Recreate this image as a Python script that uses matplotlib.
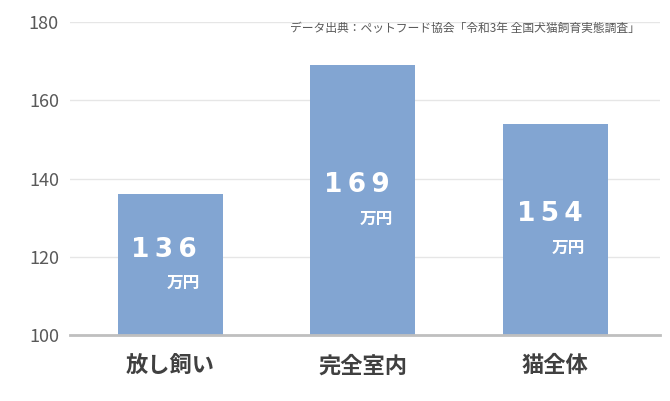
import matplotlib.pyplot as plt

plt.rcParams['font.family'] = ['Noto Sans CJK JP', 'DejaVu Sans']

categories = ['放し飼い', '完全室内', '猫全体']
values = [136, 169, 154]
yticks = [100, 120, 140, 160, 180]
source = 'データ出典：ペットフード協会「令和3年 全国犬猫飼育実態調査」'

fig = plt.figure(figsize=(6.7, 4.01), dpi=100)
ax = fig.add_axes([70 / 670, 1 - 335 / 401, 590 / 670, 313 / 401])

x = range(len(categories))
ax.bar(x, [v - 100 for v in values], bottom=100, width=0.545, color='#82A5D2', zorder=2)

for i, v in zip(x, values):
    mid = 100 + (v - 100) * 0.5
    ax.text(i - 0.03, mid + 3.8, ' '.join(str(v)).replace(' ', '\u2009'), ha='center', va='center',
            color='white', fontsize=19, fontweight='bold', family='DejaVu Sans', zorder=3)
    ax.text(i + 0.07, mid - 4.7, '万円', ha='center', va='center', color='white',
            fontsize=12, fontweight='bold', zorder=3)

ax.set_xlim(-0.52, 2.545)
ax.set_ylim(100, 180)
ax.set_yticks(yticks)
ax.yaxis.grid(True, color='#e6e6e6', linewidth=1, zorder=0)
ax.set_xticks(list(x))
ax.set_xticklabels(categories, fontsize=16, fontweight='bold', color='#404040')
ax.tick_params(axis='y', labelsize=13, labelcolor='#595959', length=0, pad=8)
ax.tick_params(axis='x', length=0, pad=14)
for s in ['top', 'right', 'left']:
    ax.spines[s].set_visible(False)
ax.spines['bottom'].set_color('#bfbfbf')
ax.spines['bottom'].set_linewidth(2)

fig.text(640 / 670, 1 - 28 / 401, source, ha='right', va='center', fontsize=8.5, color='#595959')

fig.savefig('out.png', dpi=100)
